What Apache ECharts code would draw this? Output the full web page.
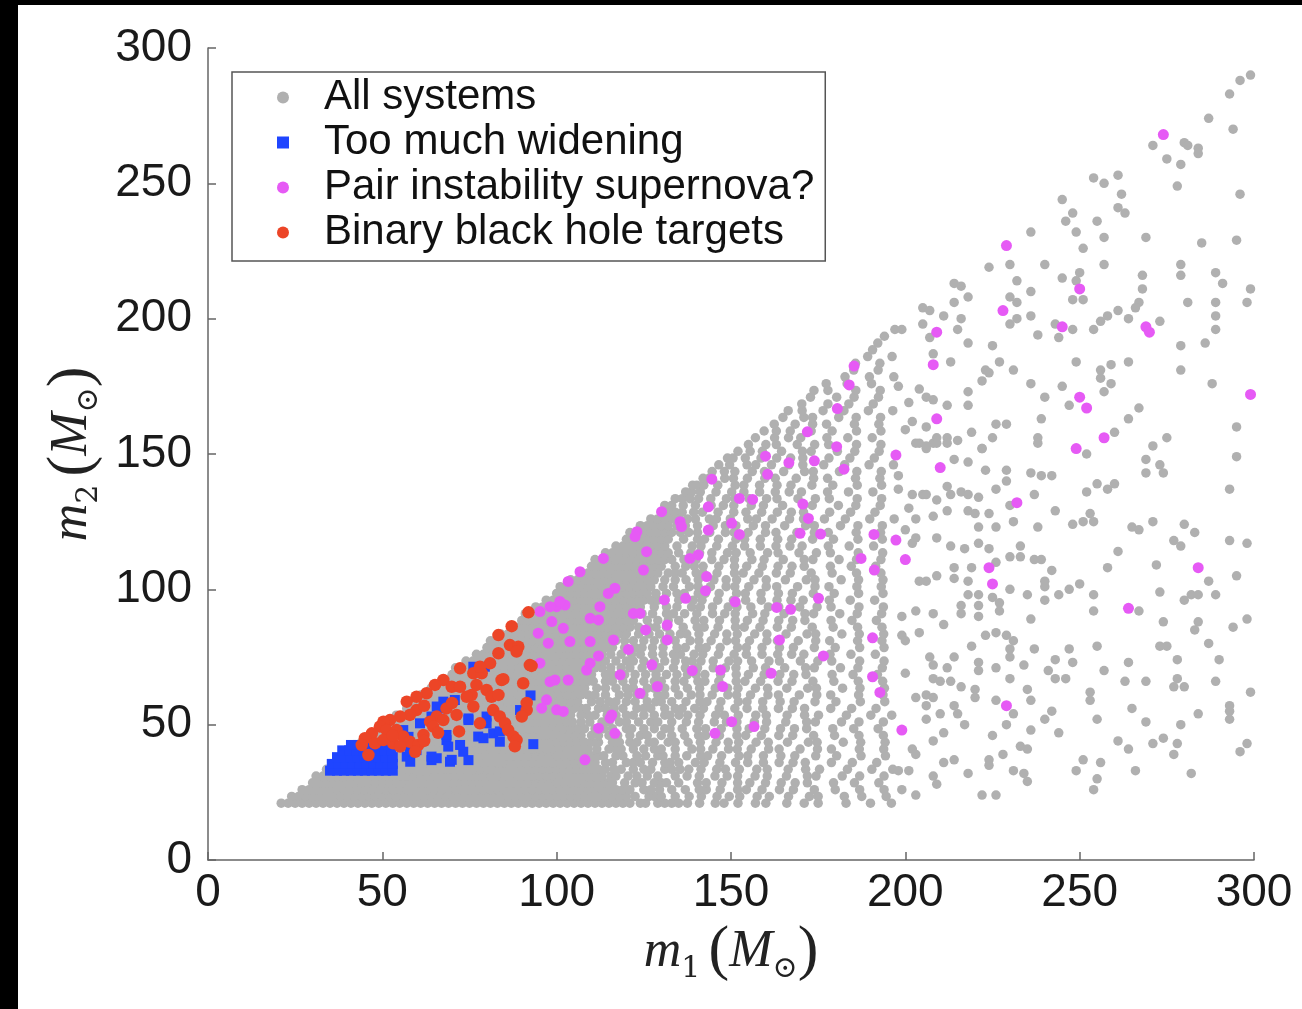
<!DOCTYPE html>
<html><head><meta charset="utf-8">
<script src="https://cdn.jsdelivr.net/npm/echarts@6/dist/echarts.min.js"></script>
<style>
html,body{margin:0;padding:0;background:#000;width:1302px;height:1009px;overflow:hidden}
#c{position:absolute;left:18px;top:5px;width:1284px;height:1004px;background:#fff}
</style></head><body><div id="c"></div>
<script>
// ---- tick labels ----
const xTickValues = [0, 50, 100, 150, 200, 250, 300];
const yTickValues = [0, 50, 100, 150, 200, 250, 300];

// ---- legend / series names ----
const seriesNames = ['All systems', 'Too much widening', 'Pair instability supernova?', 'Binary black hole targets'];

// ---- All systems (grey): rows of the dense / medium region, [m2, [m1 values]] ----
const grayRows = [
[21,[21,23,25,27,29,31,33,35,37,39,41,43,45,47,49,51,53,55,57,59,61,63,65,67,69,71,73,75,77,79,81,83,85,87,89,91,93,95,97,99,101,103,105,107,109,111,113,115,117,119,121,124,125.5,129,131,133,135,137.5,141,145.5,148,152,157,160,166,171,175,183,190,196]],
[23.5,[24,26,28,30,32,34,36,38,40,42,44,46,48,50,52,54,56,58,60,62,64,66,68,70,72,74,76,78,80,82,84,86,88,90,92,94,96,98,100,102,104,106,108,110,112,114,116,118,120,122.5,126.5,128,130,134,138,141.5,146,149.5,152.5,157.5,161,166.5,172.5,175,182.5,187.5,194.5]],
[26,[27,29,31,33,35,37,39,41,43,45,47,49,51,53,55,57,59,61,63,65,67,69,71,73,75,77,79,81,83,85,87,89,91,93,95,97,99,101,103,105,107,109,111,113,115,117,119,121,125,127,129.5,133,136.9,140.9,142.9,146.9,151.9,154.4,158.9,163.9,167.9,173.9,179.9,186.9,193.9]],
[28.5,[30,32,34,36,38,40,42,44,46,48,50,52,54,56,58,60,62,64,66,68,70,72,74,76,78,80,82,84,86,88,90,92,94,96,98,100,102,104,106,108,110,112,114,116,119.5,122.5,124.5,128,130,131.5,135,140.4,142.9,147.4,151.9,155.4,159.9,164.4,168.4,171.9,179.4,185.4,192.4]],
[31,[31,33,35,37,39,41,43,45,47,49,51,53,55,57,59,61,63,65,67,69,71,73,75,77,79,81,83,85,87,89,91,93,95,97,99,101,103,105,107,109,111,113,115.5,117,120.5,123,126,129,134,137.4,140.9,145.4,148.9,151.9,156.9,160.4,165.9,171.9,174.4,181.9,186.9,193.9]],
[33.5,[34,36,38,40,42,44,46,48,50,52,54,56,58,60,62,64,66,68,70,72,74,76,78,80,82,84,86,88,90,92,94,96,98,100,102,104,106,108,110,112,114,116.5,118.5,122,125,127,131,133,135.4,137.9,141.4,145.9,148.4,152.4,157.4,160.4,166.4,171.4,175.4,183.4,190.4,196.4]],
[36,[37,39,41,43,45,47,49,51,53,55,57,59,61,63,65,67,69,71,73,75,77,79,81,83,85,87,89,91,93,95,97,99,101,103,105,107,109,111,114,116,120,122,124,127.5,131,132.5,135,139.8,142.3,146.8,151.3,154.8,159.3,163.8,167.8,171.3,178.8,184.8,191.8]],
[38.5,[40,42,44,46,48,50,52,54,56,58,60,62,64,66,68,70,72,74,76,78,80,82,84,86,88,90,92,94,96,98,100,102,104,106,108,110,112,113.5,117,119,123,125.5,129,130.5,134,137.3,141.3,143.3,147.3,152.3,154.8,159.3,164.3,168.3,174.3,180.3,187.3,194.3]],
[41,[41,43,45,47,49,51,53,55,57,59,61,63,65,67,69,71,73,75,77,79,81,83,85,87,89,91,93,95,97,99,101,103,105,107,109,111.5,115,117,118.5,122,125,128,130,134,138.8,141.3,144.8,149.3,151.8,155.8,160.8,163.8,169.8,174.8,178.8,186.8,193.8]],
[43.5,[44,46,48,50,52,54,56,58,60,62,64,66,68,70,72,74,76,78,80,82,84,86,88,90,92,94,96,98,100,102,104,106,108,110,112,116,118,121,123,126.5,128,132,134,137.7,141.2,145.7,149.2,152.2,157.2,160.7,166.2,172.2,174.7,182.2,187.2,194.2]],
[46,[47,49,51,53,55,57,59,61,63,65,67,69,71,73,75,77,79,81,83,85,87,89,91,93,95,97,99,101,103,105,107,110,112,115,117.5,121,124,126,130,133,136.7,140.7,142.7,146.7,151.7,154.2,158.7,163.7,167.7,173.7,179.7,186.7,193.7]],
[48.5,[50,52,54,56,58,60,62,64,66,68,70,72,74,76,78,80,82,84,86,88,90,92,94,96,98,100,102,104,106,108,111,113.5,116,120,121.5,125,128,131,132.5,136,140.2,142.7,147.2,151.7,155.2,159.7,164.2,168.2,171.7,179.2,185.2,192.2]],
[51,[51,53,55,57,59,61,63,65,67,69,71,73,75,77,79,81,83,85,87,89,91,93,95,97,99,101,103,104.5,107,109.5,113,115,118,120,123.5,127,129,133,137.2,140.7,145.2,148.7,151.7,156.7,160.2,165.7,171.7,174.2,181.7,186.7,193.7]],
[53.5,[54,56,58,60,62,64,66,68,70,72,74,76,78,80,82,84,86,88,90,92,94,96,98,100,102,104,107,109,111,114.5,117,120,122,125,128,131,132.5,135.1,137.6,141.1,145.6,148.1,152.1,157.1,160.1,166.1,171.1,175.1,183.1,190.1,196.1]],
[56,[57,59,61,63,65,67,69,71,73,75,77,79,81,83,85,87,89,91,93,95,97,99,101,103,105,107,108.5,112,114,116.5,119,123,125,127,131,134,136,139.6,142.1,146.6,151.1,154.6,159.1,163.6,167.6,171.1,178.6,184.6,191.6]],
[58.5,[60,62,64,66,68,70,72,74,76,78,80,82,84,86,88,90,92,94,96,98,100,102,104,106,110,112.5,115,117,120,122.5,126,128.5,130,133,137.1,141.1,143.1,147.1,152.1,154.6,159.1,164.1,168.1,174.1,180.1,187.1,194.1]],
[61,[61,63,65,67,69,71,73,75,77,79,81,83,85,87,89,91,93,95,97,99,101,103,105,107,109,111,114,118,120.5,123,125,129,131,135,138.6,141.1,144.6,149.1,151.6,155.6,160.6,163.6,169.6,174.6,178.6,186.6,193.6]],
[63.5,[64,66,68,70,72,74,76,78,80,82,84,86,88,90,92,94,96,98,100,102,104,106,108,111.5,114,117,120,122,126,128,131,134,137.5,141,145.5,149,152,157,160.5,166,172,174.5,182,187,194]],
[66,[67,69,71,73,75,77,79,81,83,85,87,89,91,93,95,97,99,101,103,105,107,109,110.5,114,116,119,122,125,128,130,134,136.5,140.5,142.5,146.5,151.5,154,158.5,163.5,167.5,173.5,179.5,186.5,193.5]],
[68.5,[70,72,74,76,78,80,82,84,86,88,90,92,94,96,98,100,102,104,106,108,110,114,116,119.5,122.5,125.5,128.5,131.5,134.5,137.5,140,142.5,147,151.5,155,159.5,164,168,171.5,179,185,192]],
[71,[71,73,75,77,79,81,83,85,87,89,91,93,95,97,99,101,103,105,107,109,111,113,115.5,118.5,121,124.5,127.5,129.5,133.5,136.9,140.4,144.9,148.4,151.4,156.4,159.9,165.4,171.4,173.9,181.4,186.4,193.4]],
[73.5,[74,76,78,80,82,84,86,88,90,92,94,96,98,100,102,104,106,108,110,112,114,117,120,122,125,128,131,134,137,138.9,141.4,144.9,149.4,151.9,155.9,160.9,163.9,169.9,174.9,178.9,186.9,193.9]],
[76,[77,79,81,83,85,87,89,91,93,95,97,99,101,103,105,107,109,111,113,115.5,118.5,121.5,124,127.5,130.5,133.5,135.5,139.4,141.9,146.4,150.9,154.4,158.9,163.4,167.4,170.9,178.4,184.4,191.4]],
[78.5,[80,82,84,86,88,90,92,94,96,98,100,102,104,106,108,110,112,114,116,119.5,122.5,124.5,127.5,130.5,134.5,136.9,140.9,142.9,146.9,151.9,154.4,158.9,163.9,167.9,173.9,179.9,186.9,193.9]],
[81,[81,83,85,87,89,91,93,95,97,99,101,103,105,107,109,111,113,115,117,119.5,122,125,128,131,134,138.3,140.8,144.3,148.8,151.3,155.3,160.3,163.3,169.3,174.3,178.3,186.3,193.3]],
[83.5,[84,86,88,90,92,94,96,98,100,102,104,106,108,110,112,114,116,118,120,123.5,126.5,129.5,132.5,135.5,137.3,140.8,145.3,148.8,151.8,156.8,160.3,165.8,171.8,174.3,181.8,186.8,193.8]],
[86,[87,89,91,93,95,97,99,101,103,105,107,109,111,113,115,117,119,121,123.5,126.5,128.5,131.5,136.3,140.3,142.3,146.3,151.3,153.8,158.3,163.3,167.3,173.3,179.3,186.3,193.3]],
[88.5,[90,92,94,96,98,100,102,104,106,108,110,112,114,116,118,120,122,126,129,132,135,139.7,142.2,146.7,151.2,154.7,159.2,163.7,167.7,171.2,178.7,184.7,191.7]],
[91,[91,93,95,97,99,101,103,105,107,109,111,113,115,117,119,121,124.5,127.5,131.5,133.5,136.7,140.2,144.7,148.2,151.2,156.2,159.7,165.2,171.2,173.7,181.2,186.2,193.2]],
[93.5,[94,96,98,100,102,104,106,108,110,112,114,116,118,120,122,124,128,131.5,134.5,138.7,141.2,144.7,149.2,151.7,155.7,160.7,163.7,169.7,174.7,178.7,186.7,193.7]],
[96,[97,99,101,103,105,107,109,111,113,115,117,119,121,123,125,127,129,131,135,139.2,141.7,146.2,150.7,154.2,158.7,163.2,167.2,170.7,178.2,184.2,191.2]],
[98.5,[100,102,104,106,108,110,112,114,116,118,120,122,124,126,128.5,131.5,134.5,136.6,140.6,142.6,146.6,151.6,154.1,158.6,163.6,167.6,173.6,179.6,186.6,193.6]],
[101,[101,103,105,107,109,111,113,115,117,119,121,123,125,127,130.5,133.5,138.1,140.6,144.1,148.6,151.1,155.1,160.1,163.1,169.1,174.1,178.1,186.1,193.1]],
[103.5,[104,106,108,110,112,114,116,118,120,122,124,126,128,131,134,137.1,140.6,145.1,148.6,151.6,156.6,160.1,165.6,171.6,174.1,181.6,186.6,193.6]],
[106,[107,109,111,113,115,117,119,121,123,125,127,129,132,134,136,140,142,146,151,153.5,158,163,167,173,179,186,193]],
[108.5,[110,112,114,116,118,120,122,124,126,128,130,134,137,139.5,142,146.5,151,154.5,159,163.5,167.5,171,178.5,184.5,191.5]],
[111,[111,113,115,117,119,121,123,125,127,129,131,133,136.5,140,144.5,148,151,156,159.5,165,171,173.5,181,186,193]],
[113.5,[114,116,118,120,122,124,126,128,130,132,135,138.5,141,144.5,149,151.5,155.5,160.5,163.5,169.5,174.5,178.5,186.5,193.5]],
[116,[117,119,121,123,125,127,129,131,134.5,138.9,141.4,145.9,150.4,153.9,158.4,162.9,166.9,170.4,177.9,183.9,190.9]],
[118.5,[120,122,124,126,128,130,132,136.4,140.4,142.4,146.4,151.4,153.9,158.4,163.4,167.4,173.4,179.4,186.4,193.4]],
[121,[121,123,125,127,129,131,133,135.5,137.9,140.4,143.9,148.4,150.9,154.9,159.9,162.9,168.9,173.9,177.9,185.9,192.9]],
[123.5,[124,126,128,130,132,134.5,136.9,140.4,144.9,148.4,151.4,156.4,159.9,165.4,171.4,173.9,181.4,186.4,193.4]],
[126,[127,129,131,133,135,137.5,139.8,143.8,145.8,149.8,154.8,157.3,161.8,166.8,170.8,176.8,182.8,189.8,196.8]],
[128.5,[130,132,134,136,139.3,141.8,146.3,150.8,154.3,158.8,163.3,167.3,170.8,178.3,184.3,191.3]],
[131,[131,133,136.3,139.8,144.3,147.8,150.8,155.8,159.3,164.8,170.8,173.3,180.8,185.8,192.8]],
[133.5,[134,136,138.2,140.7,144.2,148.7,151.2,155.2,160.2,163.2,169.2,174.2,178.2,186.2,193.2]],
[136,[137,138.7,141.2,145.7,150.2,153.7,158.2,162.7,166.7,170.2,177.7,183.7,190.7]],
[138.5,[139,140.2,142.2,146.2,151.2,153.7,158.2,163.2,167.2,173.2,179.2,186.2,193.2]],
[141,[142,143.7,148.2,150.7,154.7,159.7,162.7,168.7,173.7,177.7,185.7,192.7]],
[143.5,[144.6,148.1,151.1,156.1,159.6,165.1,171.1,173.6,181.1,186.1,193.1]],
[146,[146.5,149.6,154.6,157.1,161.6,166.6,170.6,176.6,182.6,189.6,196.6]],
[148.5,[149,150.6,154.1,158.6,163.1,167.1,170.6,178.1,184.1,191.1]],
[151,[152,155.5,159,164.5,170.5,173,180.5,185.5,192.5]],
[153.5,[155,160,163,169,174,178,186,193]],
[156,[157,162.5,166.5,170,177.5,183.5,190.5]],
[158.5,[159.5,163,167,173,179,186,193]],
[161,[162.4,168.4,173.4,177.4,185.4,192.4]],
[163.5,[164.9,170.9,173.4,180.9,185.9,192.9]],
[166,[166.4,170.4,176.4,182.4,189.4,196.4]],
[168.5,[170.3,177.8,183.8,190.8]],
[171,[172.8,180.3,185.3,192.3]],
[173.5,[173.8,177.8,185.8,192.8]],
[176,[177.3,183.3,190.3]],
[178.5,[182.7,189.7,196.7]],
[181,[185.2,192.2]],
[183.5,[185.7,192.7]],
[186,[189.2,196.2]],
[188.5,[190.6]],
[191,[192.1]],
[193.5,[194]],
[196,[197]]
];

// ---- All systems (grey): individually read points, m1 >= ~198 ----
const graySparse = [
[299,290],[296,288],[293,283],[287,274],[294,270],[271,264],[280,265],[281,264],[284,263],[284,261],[275,259],[279,257],[278,249],[296,246],
[254,252],[257,250],[261,253],[262,246],[261,241],[263,239],[245,244],[248,239],[246,236],[249,232],[255,236],[257,230],[251,226],[269,230],
[285,228],[295,229],[236,232],[230,220],[224,219],[240,220],[257,220],[245,215],[250,217],[249,214],[248,207],[251,207],[268,216],[268,211],
[279,220],[279,216],[289,217],[291,213],[299,211],[298,206],[281,206],[289,206],[289,201],[289,196],[286,191],[279,190],[279,181],[288,176],
[295,160],[267,206],[266,204],[261,203],[264,200],[273,199],[254,196],[256,199],[258,201],[248,196],[243,198],[244,193],[238,194],[236,201],
[236,210],[232,214],[230,208],[232,206],[232,200],[230,198],[214,213],[216,212],[218,208],[214,206],[205,204],[207,203],[211,201],[216,200],
[215,196],[205,198],[207,193],[199,196],[218,191],[225,190],[208,187],[213,184],[227,184],[223,181],[224,180],[222,177],[231,181],[236,176],
[245,175],[249,184],[256,181],[256,178],[259,183],[259,176],[264,184],[257,173],[247,168],[240,171],[239,163],[238,156],[238,154],[226,161],
[229,161],[225,156],[222,152],[219,158],[218,168],[218,173],[212,168],[204,174],[206,171],[208,170],[201,169],[198,175],[202,162],[206,160],
[200,159],[209,156],[212,156],[215,155],[204,154],[206,152],[208,154],[260,158],[264,163],[267,167],[271,153],[275,156],[269,148],[295,149],
[252,150],[203,154],[206,153],[209,154],[212,154],[222,152],[293,137],[273,146],[274,143],[269,143],[214,148],[218,147],[223,144],[229,144],
[229,140],[226,137],[236,143],[239,142],[242,142],[237,135],[230,131],[198,142],[198,137],[202,135],[205,135],[206,135],[209,133],[212,138],
[213,135],[216,136],[218,135],[221,134],[201,130],[203,126],[208,127],[212,129],[218,129],[220,128],[224,128],[231,125],[221,123],[226,123],
[238,123],[243,129],[248,124],[251,125],[253,128],[254,125],[252,136],[255,139],[258,137],[260,139],[265,123],[267,122],[271,125],[280,124],
[283,121],[277,118],[279,116],[293,118],[298,117],[261,114],[258,108],[272,109],[287,103],[289,98],[295,105],[273,99],[280,96],[282,98],
[284,98],[267,92],[274,88],[284,88],[283,85],[294,86],[298,89],[287,80],[290,74],[289,66],[299,62],[293,57],[293,55],[293,52],[284,54],
[279,50],[269,51],[278,74],[278,67],[277,64],[280,64],[273,79],[275,79],[264,73],[263,66],[269,66],[255,79],[257,70],[254,98],[254,92],
[244,98],[247,100],[250,102],[242,107],[240,103],[240,101],[240,96],[235,98],[236,89],[226,110],[230,112],[233,112],[233,116],[237,111],
[239,111],[221,117],[224,115],[217,115],[213,116],[209,119],[203,119],[202,117],[200,122],[204,103],[206,103],[209,105],[214,108],[214,104],
[219,108],[218,103],[218,98],[221,98],[216,94],[216,91],[221,94],[221,90],[225,97],[227,95],[227,92],[230,100],[199,90],[203,92],[208,91],
[211,87],[204,84],[199,83],[200,81],[223,83],[226,84],[229,83],[231,81],[230,78],[230,75],[219,79],[214,75],[207,75],[208,72],[212,71],
[221,73],[221,70],[226,71],[230,67],[234,72],[237,78],[243,74],[248,73],[241,70],[243,67],[246,67],[247,78],[208,67],[210,66],[213,66],
[216,64],[220,63],[220,60],[200,69],[203,60],[206,61],[208,60],[206,57],[210,54],[214,57],[215,54],[217,50],[206,52],[226,59],[231,54],
[229,50],[235,63],[236,59],[242,55],[240,52],[236,48],[244,47],[225,46],[228,39],[233,42],[235,41],[224,37],[224,35],[211,36],[214,37],
[208,44],[211,47],[202,41],[203,39],[198,33],[201,33],[208,31],[209,28],[218,32],[222,24],[226,24],[203,24],[199,26],[231,33],[234,32],
[235,29],[249,33],[251,37],[256,36],[255,30],[254,26],[266,33],[264,41],[261,44],[271,43],[274,45],[278,43],[277,39],[282,32],[298,43],
[296,40],[253,62],[253,59],[255,52],[265,56]
];

// ---- Too much widening (blue squares) ----
const widening = [
[35,33],[37,33],[39,33],[41,33],[43,33],[45,33],[47,33],[49,33],[51,33],[53,33],
[35.5,35.5],[37.5,35.5],[39.5,35.5],[41.5,35.5],[43.5,35.5],[45.5,35.5],[47.5,35.5],[49.5,35.5],[51.5,35.5],[53,35.5],
[37,38],[39,38],[41,38],[43,38],[45,38],[47,38],[49,38],[51,38],[53,38],
[38.5,40.5],[40.5,40.5],[42.5,40.5],[44.5,40.5],[46.5,40.5],[48.5,40.5],[50.5,40.5],[52.5,40.5],
[41,42.5],[43,42.5],[45,42.5],[48,42.5],[51,42.5],
[57,38.2],[58,36.3],[64.1,36.9],[68.4,44.3],[68.9,41.9],[69.4,36.3],[73.2,40],[74.7,36.9],[74.7,51.7],[79.9,53],
[77.5,45.6],[81.8,46.8],[83.7,43.7],[93.3,42.8],[89.5,55.4],[57.5,45.5],[59.8,40.6],[64.1,53],[67,56],[67.5,58.5],
[70.8,59.1],[76.1,71.4],[79.4,71.4],[92.5,60.8],[74.7,52.3],[79.9,50.5],[68.4,46.2],[79,45],[83.7,47.5],[65.6,37.6],
[69.9,37],[72.3,42.5],[57.9,40.5],[64.1,38.2],[56,48],[60.8,50.5],[65.6,56.7]
];

// ---- Pair instability supernova? (magenta) ----
const pairInstability = [
[274,268],[229,227],[250,211],[299,172],[269,197],[270,195],[245,197],[228,203],[209,195],[208,183],[250,171],[252,167],[209,163],[257,156],
[249,152],[210,145],[232,132],[284,108],[264,93],[224,108],[225,102],[200,111],[229,57],[199,48],[185.3,182.5],
[183.9,175.5],[180.5,166.8],[171.9,158.2],[180.3,152.7],[197.3,149.6],[159.9,149.2],[166.6,146.8],[173.9,147.5],[160.5,142.5],[182.4,144.4],
[144.5,140.7],[130.1,128.7],[135.4,125],[123,121.3],[125.8,113.9],[113.4,111.4],[124.9,107.1],[116.7,100.4],[112.4,93.6],[106.7,106.5],
[109.6,89.3],[112,88.7],[143.5,130.5],[143.5,121.9],[150.2,124.4],[152.4,120.3],[152.4,133.6],[156.2,133.2],[138.2,111.4],[140.6,112.7],
[143,104.7],[142.7,99.5],[137,96.7],[130.9,96.1],[151.2,95.4],[170.6,131.5],[172.2,126.2],[169.8,120.7],[175.7,120.4],[191,120.3],
[197.3,118.2],[187.3,111.4],[191.1,107.1],[175.1,96.7],[163.1,93.3],[167.1,92.6],[163.9,81.3],[176.5,75.4],[190.6,82.1],[190.6,67.7],
[192.7,61.9],[161.5,69],[138.9,70],[147,70.2],[147.6,64.1],[128.9,64.1],[123.9,61.6],[118.2,68.4],[108.6,70.2],[109.6,72.7],
[112,75.4],[116.3,81.3],[120.6,77.8],[125.5,85],[127.3,72.1],[131.7,81.3],[131.7,86.8],[122,91.1],[123.9,91.1],[109.6,80.7],
[115.3,52.4],[112,48.7],[116.7,46.8],[108.1,37],[145.4,46.8],[150.2,51.1],[156.6,49.3],
[135.8,123.2],[122.5,119.5],[103.3,102.9],[114.8,98.5],[103.3,66.5],[98.1,65.9],[99.5,66.5],[95.2,72.7],[100,93.6],[102.4,94.2],
[100.9,95.5],[98.1,93.6],[95.2,91.8],[98.6,88.1],[101.9,85.6],[103.8,80.7],[97.6,80.1],[94.7,83.8],[97.1,59.2],[100,55.5],
[101.9,54.9],[95.7,56.1],[115.8,53.6]
];

// ---- Binary black hole targets (red) ----
const bbhTargets = [
[87.1,86.4],[83.3,83.1],[86.6,79.4],[89,78.8],[88.5,77],[83.3,76.4],[80.9,72.7],[72.3,70.8],[76.1,69],[78.5,69],
[78,71.4],[92.3,72],[84.2,66.5],[90.4,65.3],[79.9,62.8],[81.3,60.3],[83.3,61],[75.6,61],[67.5,66.5],[65.1,64.7],
[62.7,61.6],[59.8,60.3],[57,58.5],[69.9,64],[74.2,60.3],[68.4,56],[65.6,53],[63.7,51.1],[59.8,55.4],[57.9,53.6],
[55.1,53],[52.2,51.7],[50.3,51.1],[49.3,49.3],[47,46.8],[45,45],[44.1,42.5],[51.2,48],[54.1,48],[56,45.6],
[57.9,43.7],[60.3,42.5],[59.4,40],[61.8,46.2],[64.6,49.3],[67.5,51.7],[71.3,53.6],[76.1,56.7],[81.8,55.4],[83.7,53],
[85.2,50.5],[86.1,48],[87.6,45.6],[88.5,44.3],[91.4,55.4],[90,53],[46,38.8],[47.9,43.1],[50.3,44.3],[53.1,43.1],
[55.1,41.9],[91.9,91.5],[92.8,71.7],[84.7,66.8],[91.4,58],[88,42],[72.3,64],[77,64.7],[62,57],[70,58],
[53,46],[62,44],[66,47],[72,47.5],[78,50.5]
];

// ---- build point table for the grey series ----
const grayPoints = [];
grayRows.forEach(function (row) { row[1].forEach(function (m1) { grayPoints.push([m1, row[0]]); }); });
graySparse.forEach(function (p) { grayPoints.push(p); });

const chart = echarts.init(document.getElementById('c'), null, { renderer: 'canvas' });
const labelFont = 'Liberation Sans, Arial, Helvetica, sans-serif';
const richName = {
  i: { fontFamily: 'Liberation Serif, Times New Roman, serif', fontStyle: 'italic', fontSize: 52, color: '#222', lineHeight: 64 },
  s: { fontFamily: 'DejaVu Serif, serif', fontSize: 30, color: '#222', verticalAlign: 'bottom', lineHeight: 44 },
  p: { fontFamily: 'Liberation Serif, Times New Roman, serif', fontSize: 62, color: '#222', lineHeight: 64 },
  g: { fontSize: 30, lineHeight: 64 }
};
const axisCommon = {
  type: 'value',
  axisLine: { show: true, onZero: false, lineStyle: { color: '#666', width: 1.5 } },
  axisTick: { show: true, inside: true, length: 8, lineStyle: { color: '#666', width: 1.5 } },
  splitLine: { show: false },
  axisLabel: { fontFamily: labelFont, fontSize: 46, color: '#1a1a1a' }
};
function markStyle(color) { return { color: color, opacity: 1, borderWidth: 0 }; }
chart.setOption({
  animation: false,
  backgroundColor: '#fff',
  grid: { left: 190, right: 48, top: 43, bottom: 149, containLabel: false },
  xAxis: Object.assign({}, axisCommon, {
    min: xTickValues[0], max: xTickValues[xTickValues.length - 1], interval: xTickValues[1] - xTickValues[0],
    axisLabel: Object.assign({}, axisCommon.axisLabel, { margin: 10 }),
    name: '{i|m}{s|1}{g| }{p|(}{i|M}{s|⊙}{p|)}', nameLocation: 'middle', nameGap: 60,
    nameTextStyle: { rich: richName }
  }),
  yAxis: Object.assign({}, axisCommon, {
    min: yTickValues[0], max: yTickValues[yTickValues.length - 1], interval: yTickValues[1] - yTickValues[0],
    axisLabel: Object.assign({}, axisCommon.axisLabel, { margin: 16 }),
    name: '{i|m}{s|2}{g| }{p|(}{i|M}{s|⊙}{p|)}', nameLocation: 'middle', nameGap: 98, nameRotate: 90,
    nameTextStyle: { rich: richName }
  }),
  legend: {
    orient: 'vertical', left: 214, top: 67,
    itemWidth: 12, itemHeight: 12, itemGap: 0,
    padding: [3, 11, 6, 45],
    borderColor: '#555', borderWidth: 1.5, backgroundColor: '#fff',
    textStyle: { fontFamily: labelFont, fontSize: 42, color: '#111', lineHeight: 45, padding: [0, 0, 0, 30] },
    data: seriesNames
  },
  series: [
    { name: seriesNames[0], type: 'scatter', data: grayPoints, symbol: 'circle', symbolSize: 9.5,
      itemStyle: markStyle('#b0b0b0'), progressive: 0, silent: true },
    { name: seriesNames[1], type: 'scatter', data: widening, symbol: 'rect', symbolSize: 10,
      itemStyle: markStyle('#1f45ff'), silent: true },
    { name: seriesNames[2], type: 'scatter', data: pairInstability, symbol: 'circle', symbolSize: 11,
      itemStyle: markStyle('#e65af5'), silent: true },
    { name: seriesNames[3], type: 'scatter', data: bbhTargets, symbol: 'circle', symbolSize: 12.5,
      itemStyle: markStyle('#ec4527'), silent: true }
  ]
});
</script></body></html>
